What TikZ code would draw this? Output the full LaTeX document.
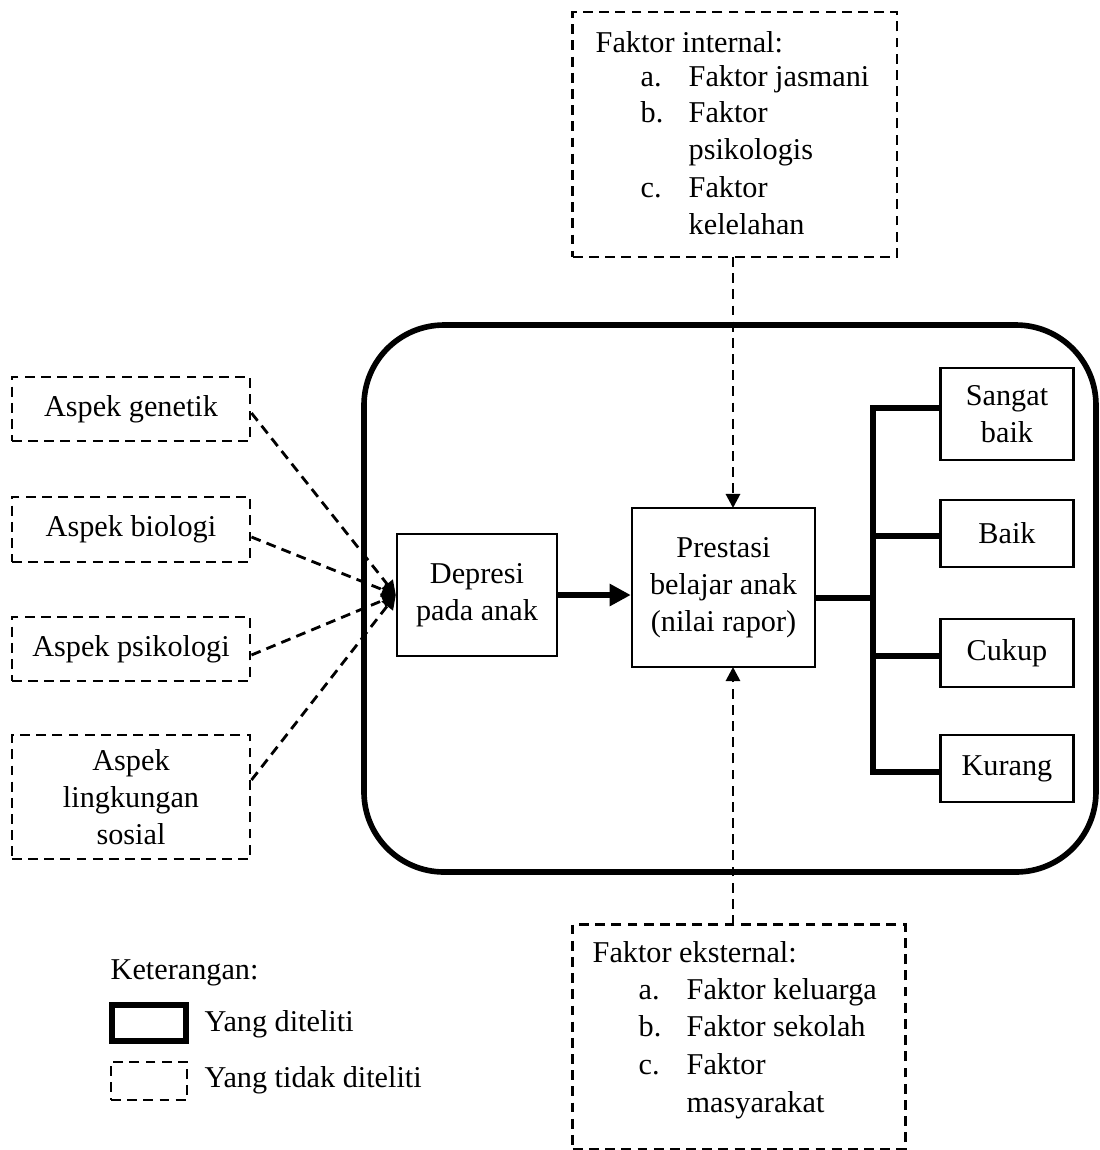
\documentclass[tikz,border=0pt]{standalone}
\usepackage{fontspec}
\setmainfont{Liberation Serif}
\usetikzlibrary{arrows.meta, positioning}

\begin{document}
\begin{tikzpicture}[x=0.01cm, y=-0.01cm, font=\fontsize{8.6}{10.5}\selectfont]
				\tikzstyle{Box} = [rectangle, draw=black, line width=0.65pt, align=center, inner sep=0pt]
				\tikzstyle{DashBox} = [rectangle, draw=black, line width=0.8pt, dash pattern=on 2.8pt off 1.8pt, align=center, inner sep=0pt]
				\tikzstyle{Txt} = [anchor=base west, inner sep=0pt]
				\tikzstyle{arrow} = [line width=1.5pt, -{Triangle[length=6pt, width=6pt]}]
				\tikzstyle{dasharrow} = [line width=0.8pt, dash pattern=on 2.8pt off 1.8pt, -{Triangle[length=4pt, width=4pt]}]
				\tikzstyle{bar} = [line width=1.6pt]
				\useasboundingbox (0,0) rectangle (1100,1150);

				% kotak yang diteliti
				\draw [line width=1.6pt, rounded corners=0.8cm] (364,325) rectangle (1096,872);

				% faktor internal
				\node (ti) [DashBox, minimum width=3.24cm, minimum height=2.45cm] at (735,134.5) {};
				\node (tih) [Txt] at (595,52) {Faktor internal:};
				\foreach \y/\l/\t [count=\i] in {86/a./Faktor jasmani, 122/b./Faktor, 159//psikologis, 197/c./Faktor, 234//kelelahan}
					{\node (til\i) [Txt] at (640,\y) {\l};
					 \node (tit\i) [Txt] at (688,\y) {\t};}

				% faktor eksternal
				\node (te) [DashBox, minimum width=3.32cm, minimum height=2.25cm] at (739,1037) {};
				\node (teh) [Txt] at (592,962) {Faktor eksternal:};
				\foreach \y/\l/\t [count=\i] in {999/a./Faktor keluarga, 1036/b./Faktor sekolah, 1074/c./Faktor, 1112//masyarakat}
					{\node (tel\i) [Txt] at (638,\y) {\l};
					 \node (tet\i) [Txt] at (686,\y) {\t};}

				% aspek
				\node (ag) [DashBox, minimum width=2.38cm, minimum height=0.64cm] at (131,409) {Aspek genetik};
				\node (ab) [DashBox, minimum width=2.38cm, minimum height=0.65cm] at (131,529.5) {Aspek biologi};
				\node (ap) [DashBox, minimum width=2.38cm, minimum height=0.64cm] at (131,649) {Aspek psikologi};
				\node (al) [DashBox, minimum width=2.38cm, minimum height=1.24cm] at (131,797) {Aspek\\lingkungan\\sosial};

				% variabel
				\node (dp) [Box, minimum width=1.6cm, minimum height=1.22cm] at (477,595) {Depresi\\pada anak};
				\node (pr) [Box, minimum width=1.83cm, minimum height=1.59cm] at (723.5,587.5) {Prestasi\\belajar anak\\(nilai rapor)};

				% kategori
				\node (sb) [Box, minimum width=1.33cm, minimum height=0.92cm] at (1007,414) {Sangat\\baik};
				\node (bk) [Box, minimum width=1.33cm, minimum height=0.67cm] at (1007,533.5) {Baik};
				\node (ck) [Box, minimum width=1.33cm, minimum height=0.68cm] at (1007,653) {Cukup};
				\node (kr) [Box, minimum width=1.33cm, minimum height=0.67cm] at (1007,768.5) {Kurang};

				\coordinate (bus) at (873,598);
				\coordinate (bt) at (873,408);
				\coordinate (bb) at (873,772);
				\draw [bar] (pr.east |- bus) -- (bus);
				\draw [bar] (sb.west |- bt) -- (bt) -- (bb) -- (kr.west |- bb);
				\draw [bar] (873,536) -- (bk.west |- 873,536);
				\draw [bar] (873,656) -- (ck.west |- 873,656);

				% panah
				\draw [arrow] (dp.east) -- (pr.west |- dp.east);
				\draw [dasharrow] (733,257) -- (733,508);
				\draw [dasharrow] (733,925) -- (733,667);
				\draw [dasharrow] ([yshift=-0.04cm]ag.east) -- (dp.west);
				\draw [dasharrow] ([yshift=-0.075cm]ab.east) -- (dp.west);
				\draw [dasharrow] ([yshift=-0.06cm]ap.east) -- (dp.west);
				\draw [dasharrow] ([yshift=0.17cm]al.east) -- (dp.west);

				% keterangan
				\node (ket) [Txt] at (110,979) {Keterangan:};
				\node (lg1) [rectangle, draw=black, line width=1.6pt, minimum width=0.74cm, minimum height=0.36cm] at (149,1023) {};
				\node (lt1) [Txt] at (204,1031) {Yang diteliti};
				\node (lg2) [DashBox, minimum width=0.76cm, minimum height=0.38cm] at (149,1081) {};
				\node (lt2) [Txt] at (204,1087) {Yang tidak diteliti};
			\end{tikzpicture}
\end{document}
